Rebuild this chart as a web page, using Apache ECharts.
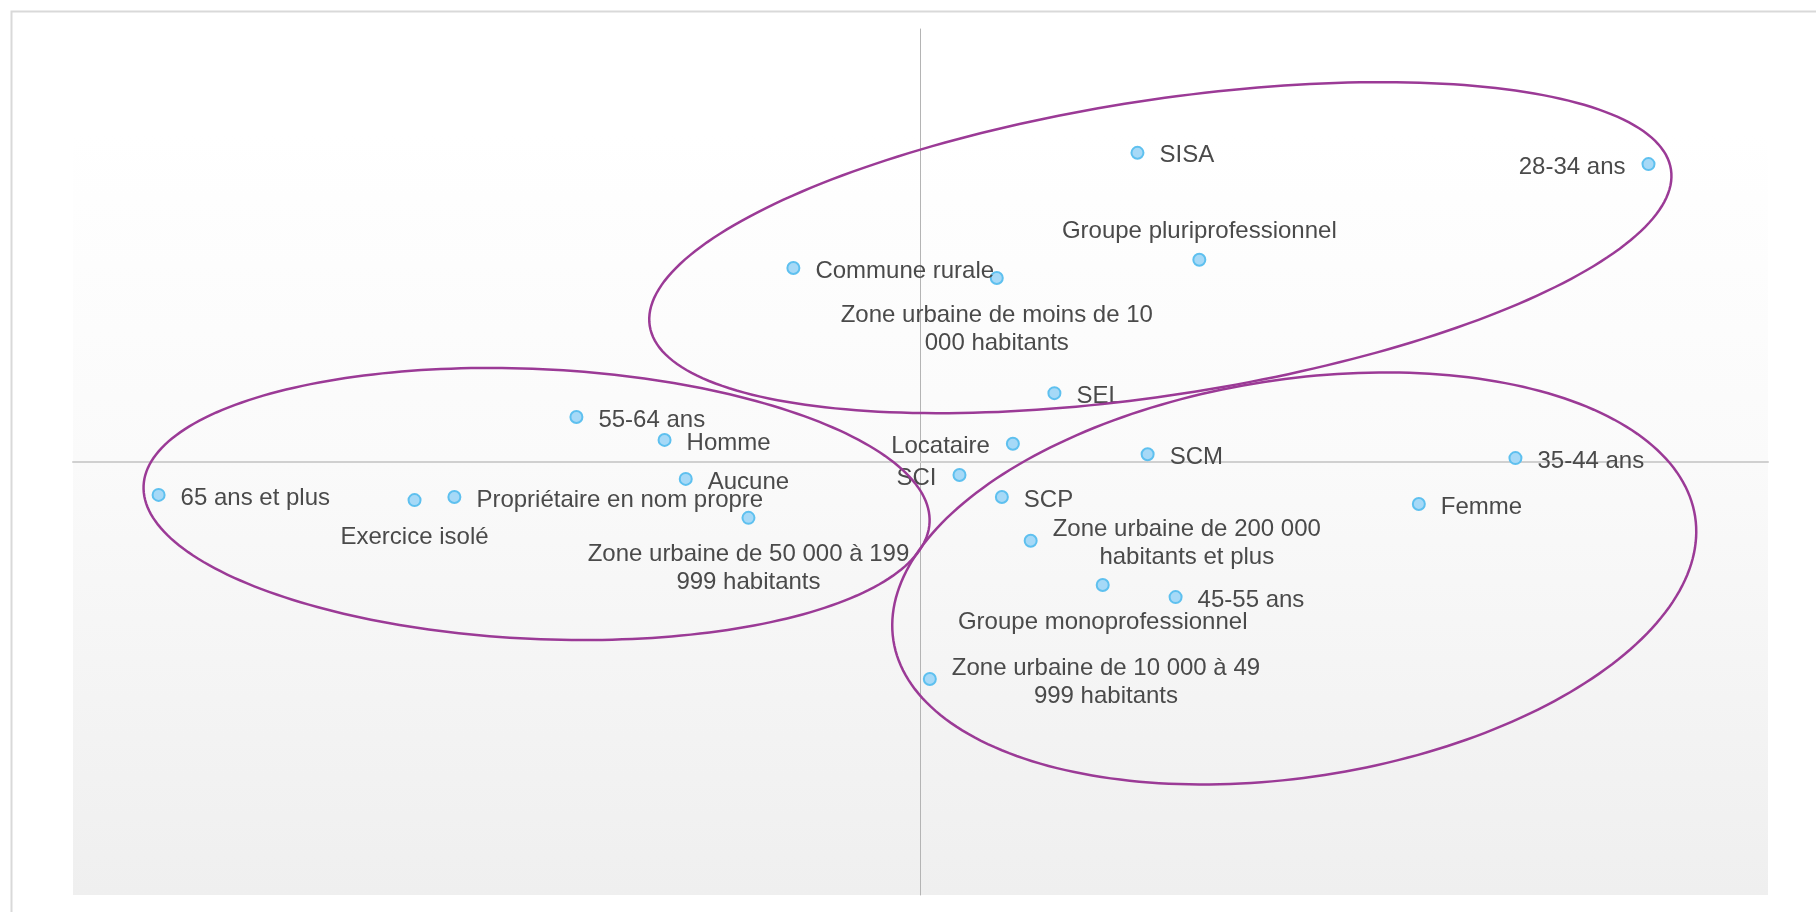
<!DOCTYPE html>
<html><head><meta charset="utf-8">
<script src="https://cdn.jsdelivr.net/npm/echarts@6/dist/echarts.min.js"></script>
<style>html,body{margin:0;padding:0;background:#fff}#c{width:1816px;height:912px}</style>
</head><body><div id="c"></div>
<script>
// ---- data (factor-map coordinates) ----
const categories = [
  'SISA','28-34 ans','Groupe pluriprofessionnel','Commune rurale',
  'Zone urbaine de moins de 10 000 habitants','SEL','55-64 ans','Homme',
  'Locataire','SCM','35-44 ans','Aucune','SCI','65 ans et plus',
  'Exercice isolé','Propriétaire en nom propre','SCP','Femme',
  'Zone urbaine de 50 000 à 199 999 habitants','Zone urbaine de 200 000 habitants et plus',
  'Groupe monoprofessionnel','45-55 ans','Zone urbaine de 10 000 à 49 999 habitants'
];
const pointLabels = [
  'SISA','28-34 ans','Groupe pluriprofessionnel','Commune rurale',
  'Zone urbaine de moins de 10\n000 habitants','SEL','55-64 ans','Homme',
  'Locataire','SCM','35-44 ans','Aucune','SCI','65 ans et plus',
  'Exercice isolé','Propriétaire en nom propre','SCP','Femme',
  'Zone urbaine de 50 000 à 199\n999 habitants','Zone urbaine de 200 000\nhabitants et plus',
  'Groupe monoprofessionnel','45-55 ans','Zone urbaine de 10 000 à 49\n999 habitants'
];
const xValues = [0.256, 0.859, 0.329, -0.150, 0.090, 0.158, -0.406, -0.302, 0.109, 0.268, 0.702, -0.277, 0.046, -0.899, -0.597, -0.550, 0.096, 0.588, -0.203, 0.130, 0.215, 0.301, 0.011];
const yValues = [0.714, 0.688, 0.467, 0.448, 0.425, 0.159, 0.104, 0.051, 0.042, 0.018, 0.009, -0.039, -0.030, -0.076, -0.088, -0.081, -0.081, -0.097, -0.129, -0.182, -0.284, -0.312, -0.501];

// ellipses grouping the modalities: centre and two conjugate half-axes (data units)
const ellipseCx = [0.283, -0.453, 0.441];
const ellipseCy = [0.495, -0.097, -0.269];
const ellipseUx = [0.6025, 0.4637, 0.4730];
const ellipseUy = [0.1804, -0.0425, 0.1430];
const ellipseVx = [0.0263, -0.0074, 0.0358];
const ellipseVy = [-0.3370, -0.3113, -0.4538];

// ---- label placement (style) ----
const placement = {
  '28-34 ans':'left','Locataire':'left','SCI':'left',
  'Groupe pluriprofessionnel':'top',
  'Zone urbaine de moins de 10 000 habitants':'bottom','Exercice isolé':'bottom',
  'Zone urbaine de 50 000 à 199 999 habitants':'bottom','Groupe monoprofessionnel':'bottom',
  'Zone urbaine de 200 000 habitants et plus':'rightCenter',
  'Zone urbaine de 10 000 à 49 999 habitants':'rightCenter'
};
const FONT = '"Liberation Sans", Arial, sans-serif';
const FS = 24;
const cv = document.createElement('canvas').getContext('2d');
cv.font = FS + 'px ' + FONT;
function blockWidth(t){ return Math.max.apply(null, t.split('\n').map(s => cv.measureText(s).width)); }

const points = categories.map((name, i) => {
  const p = placement[name] || 'right';
  const label = {};
  if (p === 'rightCenter') {
    label.position = 'right'; label.align = 'center';
    label.offset = [blockWidth(pointLabels[i]) / 2, 3]; label.distance = 15;
  } else if (p === 'left') { label.position = 'left'; label.distance = 16; label.offset = [0, 3]; }
  else if (p === 'top') { label.position = 'top'; label.distance = 7; }
  else if (p === 'bottom') { label.position = 'bottom'; label.distance = 16; }
  else { label.position = 'right'; label.distance = 15; label.offset = [0, 3]; }
  return { name: name, value: [xValues[i], yValues[i]], label: label };
});

const ellipses = ellipseCx.map((c, i) => [c, ellipseCy[i], ellipseUx[i], ellipseUy[i], ellipseVx[i], ellipseVy[i]]);

const chart = echarts.init(document.getElementById('c'), null, {renderer:'canvas'});
chart.setOption({
  animation: false,
  backgroundColor: '#ffffff',
  graphic: [{
    type: 'rect', left: 9, top: 9, z: -10,
    shape: { width: 1830, height: 930 },
    style: { fill: 'none', stroke: '#d9d9d9', lineWidth: 2 }
  }],
  grid: {
    left: 73, right: 48, top: 29, bottom: 17, show: true, borderWidth: 0,
    backgroundColor: new echarts.graphic.LinearGradient(0, 0, 0, 1, [
      {offset: 0, color: '#ffffff'}, {offset: 0.12, color: '#ffffff'}, {offset: 0.5, color: '#fafafa'}, {offset: 1, color: '#efefef'}
    ])
  },
  xAxis: {
    type: 'value', min: -1, max: 1,
    axisLine: { show: true, onZero: true, lineStyle: { color: '#d0d0d0', width: 2 } },
    axisTick: { show: false }, axisLabel: { show: false }, splitLine: { show: false }
  },
  yAxis: {
    type: 'value', min: -1, max: 1,
    axisLine: { show: true, onZero: true, lineStyle: { color: '#b4b4b4', width: 1 } },
    axisTick: { show: false }, axisLabel: { show: false }, splitLine: { show: false }
  },
  series: [{
    type: 'scatter', z: 3,
    symbol: 'circle', symbolSize: 12,
    itemStyle: { color: '#a6d9f7', borderColor: '#5ec0ef', borderWidth: 2, opacity: 1 },
    label: {
      show: true, color: '#4a4a4a', fontFamily: FONT, fontSize: FS, lineHeight: 28,
      formatter: p => pointLabels[p.dataIndex]
    },
    emphasis: { disabled: true },
    data: points
  }, {
    type: 'custom', z: 5, silent: true,
    coordinateSystem: 'cartesian2d',
    encode: { x: 0, y: 1 },
    data: ellipses,
    renderItem: function (params, api) {
      const cx = api.value(0), cy = api.value(1), ux = api.value(2), uy = api.value(3), vx = api.value(4), vy = api.value(5);
      const pts = [];
      for (let k = 0; k < 240; k++) {
        const t = k / 240 * 2 * Math.PI;
        pts.push(api.coord([cx + ux * Math.cos(t) + vx * Math.sin(t), cy + uy * Math.cos(t) + vy * Math.sin(t)]));
      }
      return { type: 'polygon', shape: { points: pts }, style: { fill: 'none', stroke: '#9b3a96', lineWidth: 2.5 } };
    }
  }]
});
</script>
</body></html>
